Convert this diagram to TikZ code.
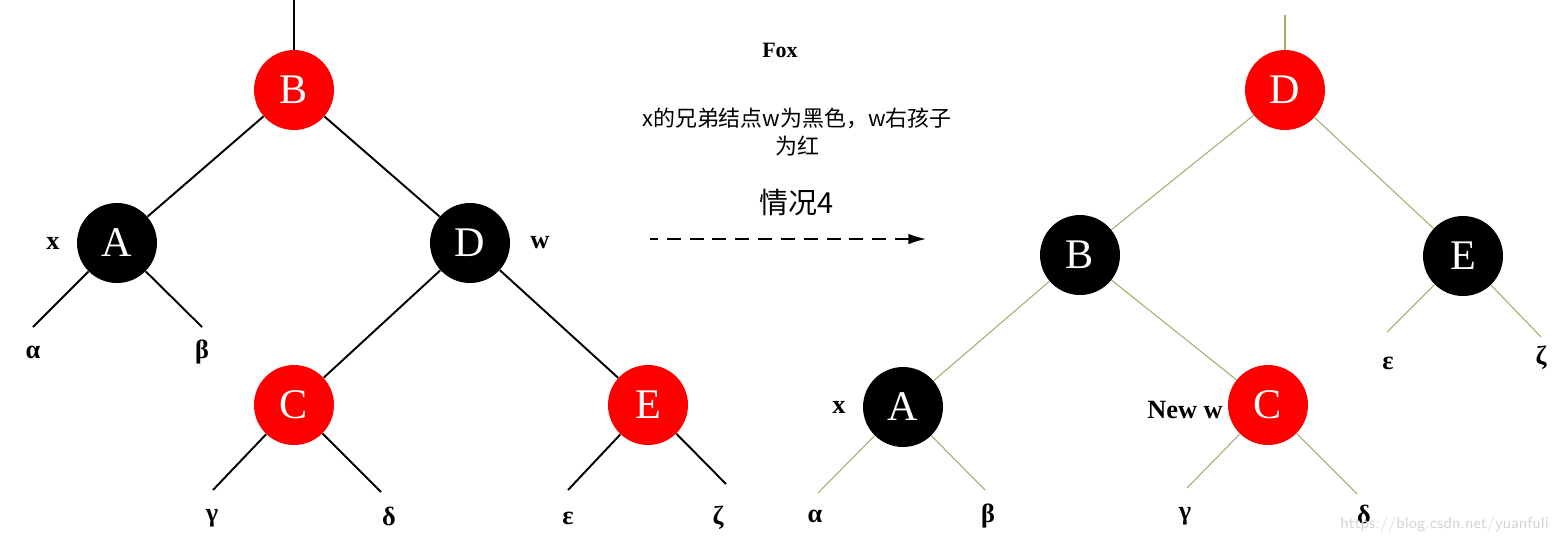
\documentclass[tikz,border=0pt]{standalone}
\usepackage{fontspec}
\setmainfont{Liberation Serif}
\newfontfamily\cjk{Noto Sans CJK SC}
\usetikzlibrary{arrows.meta}
\definecolor{NodeRed}{HTML}{FF0000}
\definecolor{EdgeOlive}{HTML}{A3AD6E}
\definecolor{MarkGray}{HTML}{D4D4D4}

\begin{document}
\begin{tikzpicture}[
    x=0.02cm,y=-0.02cm,
    >=Latex,
    rbnode/.style={circle,minimum size=1.6cm,inner sep=0pt,text=white,
      font=\fontsize{24}{24}\selectfont},
    rednode/.style={rbnode,fill=NodeRed},
    blacknode/.style={rbnode,fill=black},
    oldedge/.style={line width=1.1pt,draw=black},
    newedge/.style={line width=0.6pt,draw=EdgeOlive},
    tag/.style={font=\fontsize{15}{15}\selectfont\bfseries},
    note/.style={font=\cjk\fontsize{12.5}{16}\selectfont,align=center}
  ]
    \useasboundingbox (0,0) rectangle (1564,542);

    % Left tree: before rotation.
    \node[rednode] (lB) at (294,90) {B};
    \node[blacknode] (lA) at (117,243) {A};
    \node[blacknode] (lD) at (470,243) {D};
    \node[rednode] (lC) at (294,405) {C};
    \node[rednode] (lE) at (648,405) {E};
    \coordinate (lroot) at (294,0);
    \coordinate (la) at (33,327);
    \coordinate (lb) at (202,327);
    \coordinate (lg) at (213,490);
    \coordinate (ld) at (381,492);
    \coordinate (le) at (568,490);
    \coordinate (lz) at (726,484);
    \draw[oldedge] (lroot) -- (lB);
    \draw[oldedge] (lB) -- (lA);
    \draw[oldedge] (lB) -- (lD);
    \draw[oldedge] (lD) -- (lC);
    \draw[oldedge] (lD) -- (lE);
    \draw[oldedge] (lA) -- (la);
    \draw[oldedge] (lA) -- (lb);
    \draw[oldedge] (lC) -- (lg);
    \draw[oldedge] (lC) -- (ld);
    \draw[oldedge] (lE) -- (le);
    \draw[oldedge] (lE) -- (lz);
    \node[tag] (lx) at (53,243) {x};
    \node[tag] (lw) at (540,243) {w};
    \node[tag] at (33,352) {α};
    \node[tag] at (202,352) {β};
    \node[tag] at (212,518) {γ};
    \node[tag] at (389,516) {δ};
    \node[tag] at (568,518) {ε};
    \node[tag] at (718,518) {ζ};

    % Middle: case text and arrow.
    \node[font=\fontsize{12.5}{12.5}\selectfont\bfseries] (fox) at (780,50) {Fox};
    \node[note] (case) at (797,132) {x的兄弟结点w为黑色，w右孩子\\为红};
    \node[font=\cjk\fontsize{16.5}{16.5}\selectfont] (title) at (797,202) {情况4};
    \coordinate (arrowin) at (650,239);
    \coordinate (arrowout) at (926,239);
    \draw[dashed,line width=0.8pt,dash pattern=on 8pt off 5pt,
      {Latex[length=10pt,width=6pt]}-] (arrowout) -- (arrowin);

    % Right tree: after rotation.
    \node[rednode] (rD) at (1285,90) {D};
    \node[blacknode] (rB) at (1080,255) {B};
    \node[blacknode] (rE) at (1463,256) {E};
    \node[blacknode] (rA) at (903,407) {A};
    \node[rednode] (rC) at (1268,405) {C};
    \coordinate (rroot) at (1285,15);
    \coordinate (re) at (1387,332);
    \coordinate (rz) at (1541,337);
    \coordinate (ra) at (818,493);
    \coordinate (rb) at (985,490);
    \coordinate (rg) at (1187,488);
    \coordinate (rd) at (1357,494);
    \draw[newedge] (rroot) -- (rD);
    \draw[newedge] (rD) -- (rB);
    \draw[newedge] (rD) -- (rE);
    \draw[newedge] (rB) -- (rA);
    \draw[newedge] (rB) -- (rC);
    \draw[newedge] (rE) -- (re);
    \draw[newedge] (rE) -- (rz);
    \draw[newedge] (rA) -- (ra);
    \draw[newedge] (rA) -- (rb);
    \draw[newedge] (rC) -- (rg);
    \draw[newedge] (rC) -- (rd);
    \node[tag] (rx) at (839,407) {x};
    \node[tag] (rw) at (1185,410) {New w};
    \node[tag] at (1388,363) {ε};
    \node[tag] at (1541,358) {ζ};
    \node[tag] at (815,516) {α};
    \node[tag] at (988,516) {β};
    \node[tag] at (1185,516) {γ};
    \node[tag] at (1364,514) {δ};

    \node[text=MarkGray,font=\sffamily\fontsize{9.1}{9.1}\selectfont,anchor=east]
      (mark) at (1555,524) {https://blog.csdn.net/yuanfuli};
  \end{tikzpicture}
\end{document}
